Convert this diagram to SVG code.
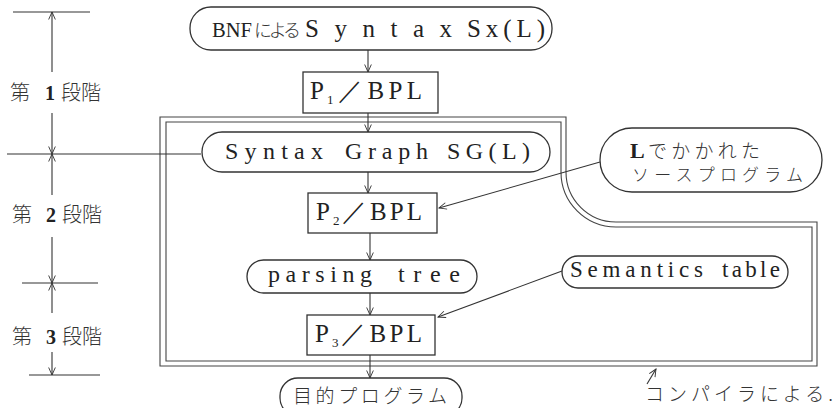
<svg xmlns="http://www.w3.org/2000/svg" width="837" height="408" viewBox="0 0 837 408">
<defs>
<marker id="ah" viewBox="-10 -6 12 12" refX="0" refY="0" markerWidth="10" markerHeight="10" markerUnits="userSpaceOnUse" orient="auto">
<path d="M-9,-4 L0,0 L-9,4" fill="none" stroke="#333" stroke-width="1.1"/>
</marker>
</defs>
<style>
.box{fill:#fff;stroke:#333;stroke-width:1.3}
.ln{fill:none;stroke:#333;stroke-width:1.1}
.dbl{fill:none;stroke:#444;stroke-width:1.1}
.t{font-family:"Liberation Serif","DejaVu Serif",serif;fill:#222}
.j{font-family:"Noto Sans CJK JP",sans-serif;fill:#333;font-weight:300}
.arr{fill:none;stroke:#333;stroke-width:1.1;marker-end:url(#ah)}
</style>
<rect width="837" height="408" fill="#fff"/>

<g id="compiler-boundary">
<path class="dbl" d="M160,117 H566 V172 A50 50 0 0 0 616,222 H817 V366 H160 Z"/>
<path class="dbl" d="M166,122 H561 V172 A55 55 0 0 0 616,227 H812 V361 H166 Z"/>
</g>

<g id="stages">
<line class="ln" x1="13" y1="12" x2="90" y2="12"/>
<line class="ln" x1="7" y1="154" x2="201" y2="154"/>
<line class="ln" x1="22" y1="283" x2="98" y2="283"/>
<line class="ln" x1="29" y1="375" x2="100" y2="375"/>
<text x="10" y="100" font-size="20"><tspan class="j">第</tspan><tspan class="t" x="45" font-weight="bold">1</tspan><tspan class="j" x="61">段階</tspan></text>
<text x="12" y="222" font-size="20"><tspan class="j">第</tspan><tspan class="t" x="46" font-weight="bold">2</tspan><tspan class="j" x="62">段階</tspan></text>
<text x="12" y="344" font-size="20"><tspan class="j">第</tspan><tspan class="t" x="46" font-weight="bold">3</tspan><tspan class="j" x="62">段階</tspan></text>
</g>

<g id="bnf">
<rect class="box" x="190" y="7" width="362" height="43" rx="21"/>
<text class="t" x="212" y="37" font-size="22" textLength="40" lengthAdjust="spacingAndGlyphs">BNF</text>
<text class="j" x="254" y="37" font-size="18" textLength="47" lengthAdjust="spacing">による</text>
<text class="t" x="305" y="37" font-size="25" textLength="147" lengthAdjust="spacing">Syntax</text>
<text class="t" x="467" y="37" font-size="25" textLength="78" lengthAdjust="spacing">Sx(L)</text>
</g>

<g id="p1">
<rect class="box" x="303" y="72" width="135" height="41"/>
<text class="t" x="310" y="99" font-size="25">P</text>
<text class="t" x="327" y="104" font-size="13">1</text>
<text class="t" x="338" y="99" font-size="25" textLength="84" lengthAdjust="spacing">／BPL</text>
</g>

<g id="syntax-graph">
<rect class="box" x="202" y="132" width="348" height="40" rx="20"/>
<text class="t" x="225" y="159" font-size="24" textLength="98" lengthAdjust="spacing">Syntax</text>
<text class="t" x="345" y="159" font-size="24" textLength="83" lengthAdjust="spacing">Graph</text>
<text class="t" x="447" y="159" font-size="24" textLength="83" lengthAdjust="spacing">SG(L)</text>
</g>

<g id="p2">
<rect class="box" x="308" y="193" width="129" height="40"/>
<text class="t" x="316" y="220" font-size="25">P</text>
<text class="t" x="333" y="225" font-size="13">2</text>
<text class="t" x="342" y="220" font-size="25" textLength="80" lengthAdjust="spacing">／BPL</text>
</g>

<g id="parsing-tree">
<rect class="box" x="247" y="260" width="230" height="33" rx="16.5"/>
<text class="t" x="268" y="282" font-size="24" textLength="104" lengthAdjust="spacing">parsing</text>
<text class="t" x="398" y="282" font-size="24" textLength="62" lengthAdjust="spacing">tree</text>
</g>

<g id="p3">
<rect class="box" x="307" y="315" width="128" height="40"/>
<text class="t" x="315" y="342" font-size="25">P</text>
<text class="t" x="332" y="347" font-size="13">3</text>
<text class="t" x="341" y="342" font-size="25" textLength="81" lengthAdjust="spacing">／BPL</text>
</g>

<g id="target">
<rect class="box" x="280" y="378" width="182" height="38" rx="18"/>
<text class="j" x="293" y="403" font-size="19" textLength="154" lengthAdjust="spacing">目的プログラム</text>
</g>

<g id="source">
<rect class="box" x="600" y="128" width="222" height="64" rx="32"/>
<text x="630" y="158" font-size="19"><tspan class="t" font-weight="bold" font-size="22">L</tspan><tspan class="j" x="648" textLength="112" lengthAdjust="spacing">でかかれた</tspan></text>
<text class="j" x="632" y="181" font-size="17" textLength="171" lengthAdjust="spacing">ソースプログラム</text>
</g>

<g id="semantics">
<rect class="box" x="562" y="256" width="226" height="32" rx="16"/>
<text class="t" x="570" y="277" font-size="23" textLength="133" lengthAdjust="spacing">Semantics</text>
<text class="t" x="722" y="277" font-size="23" textLength="58" lengthAdjust="spacing">table</text>
</g>

<g id="compiler-note">
<text class="j" x="645" y="401" font-size="19" textLength="188" lengthAdjust="spacing">コンパイラによる.</text>
</g>

<g id="connectors">
<line class="arr" x1="368" y1="50" x2="368" y2="72"/>
<line class="arr" x1="368" y1="113" x2="368" y2="132"/>
<line class="arr" x1="368" y1="172" x2="368" y2="193"/>
<line class="arr" x1="370" y1="233" x2="370" y2="260"/>
<line class="arr" x1="370" y1="293" x2="370" y2="315"/>
<line class="arr" x1="370" y1="355" x2="370" y2="378"/>
<line class="arr" x1="600" y1="162" x2="439" y2="208"/>
<line class="arr" x1="562" y1="271" x2="438" y2="317"/>
<line class="arr" x1="647" y1="384" x2="656" y2="369"/>
<line class="arr" x1="52" y1="72" x2="52" y2="12"/>
<line class="arr" x1="52" y1="113" x2="52" y2="154"/>
<line class="arr" x1="52" y1="195" x2="52" y2="154"/>
<line class="arr" x1="52" y1="237" x2="52" y2="283"/>
<line class="arr" x1="52" y1="313" x2="52" y2="283"/>
<line class="arr" x1="52" y1="352" x2="52" y2="375"/>
</g>
</svg>
